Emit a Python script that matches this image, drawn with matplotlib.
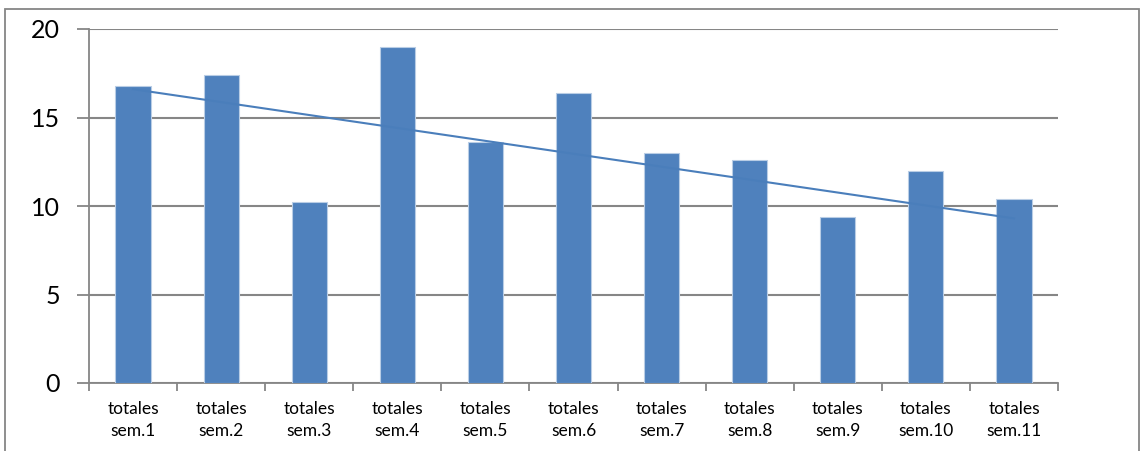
import matplotlib.pyplot as plt
from matplotlib.patches import Rectangle

categories = ['totales\nsem.1', 'totales\nsem.2', 'totales\nsem.3', 'totales\nsem.4',
              'totales\nsem.5', 'totales\nsem.6', 'totales\nsem.7', 'totales\nsem.8',
              'totales\nsem.9', 'totales\nsem.10', 'totales\nsem.11']
values = [16.8, 17.4, 10.2, 19.0, 13.6, 16.4, 13.0, 12.6, 9.4, 12.0, 10.4]
# trend line values at first and last category
trend = [16.6, 9.3]

plt.rcParams['font.family'] = ['Lato', 'DejaVu Sans']

fig = plt.figure(figsize=(11.46, 4.51), dpi=100)
ax = fig.add_axes([89 / 1146, 1 - 383 / 451, (1058 - 89) / 1146, (383 - 29) / 451])

x = list(range(len(values)))
ax.bar(x, values, width=0.4, color='#4F81BD', edgecolor='#B9CDE5', linewidth=0.8, zorder=3)
ax.plot([x[0], x[-1]], trend, color='#4A7EBB', linewidth=1.5, zorder=4)

ax.set_xlim(-0.5, len(values) - 0.5)
ax.set_ylim(0, 20)
ax.set_yticks([0, 5, 10, 15, 20])
ax.set_xticks(x)
ax.set_xticklabels(categories, fontsize=12.5, linespacing=1.45)
ax.tick_params(axis='x', length=0, pad=13)
ax.set_xticks([i - 0.5 for i in range(len(values) + 1)], minor=True)
ax.tick_params(axis='x', which='minor', length=6, color='#868686', width=1.3, direction='out')
ax.tick_params(axis='y', length=9, color='#868686', width=1.3, labelsize=18, pad=12)

ax.yaxis.grid(True, color='#868686', linewidth=1.5, zorder=0)
ax.set_axisbelow(True)
for s in ['top', 'right']:
    ax.spines[s].set_visible(False)
for s in ['left', 'bottom']:
    ax.spines[s].set_color('#868686')
    ax.spines[s].set_linewidth(1.3)

# outer chart border
fig.patches.append(Rectangle((5 / 1146, -0.1), 1134 / 1146, 1.1 - 9 / 451,
                             transform=fig.transFigure, fill=False,
                             edgecolor='#868686', linewidth=1.3))

fig.savefig('out.png', dpi=100)
